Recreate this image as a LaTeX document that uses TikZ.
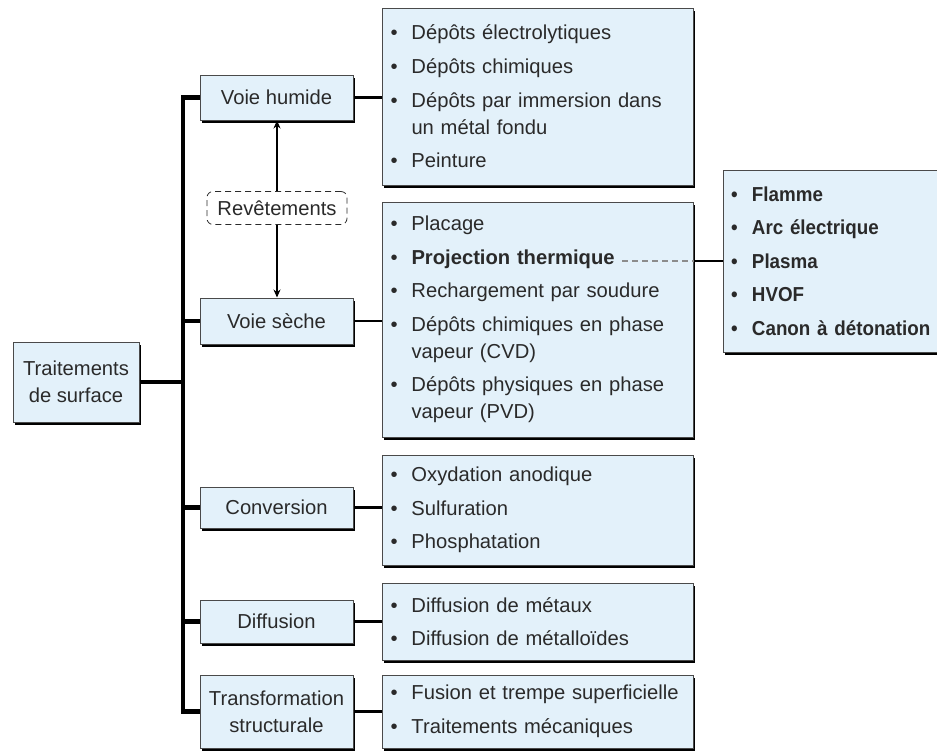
\documentclass[tikz,border=0pt]{standalone}
\usepackage{fontspec}
\setmainfont{Liberation Sans}
\newfontfamily\grasfont[FakeStretch=0.93]{Liberation Sans}
\usetikzlibrary{arrows.meta, shadows}
\definecolor{tsfill}{HTML}{E3F1FA}
\definecolor{tsedge}{HTML}{4A4A4A}
\definecolor{tsdash}{HTML}{8C8C8C}
\definecolor{tstext}{HTML}{2A2A2A}
\newcommand{\itm}{\makebox[10.5pt][l]{\textbullet}}
\newcommand{\itmc}{\hspace*{10.5pt}}
\newcommand{\isep}{3.3pt}
\tikzset{
  famille/.style={rectangle, draw=tsedge, line width=0.5pt, fill=tsfill, text=tstext,
    font=\fontsize{10.1}{13.5}\selectfont, align=center, inner sep=2pt,
    drop shadow={shadow xshift=0.9pt, shadow yshift=-1.4pt, fill=black, opacity=1}},
  liste/.style={famille, align=left, inner xsep=4pt, text width=147pt, minimum width=155.5pt},
  revet/.style={rectangle, rounded corners=3pt, draw=tstext, densely dashed, line width=0.4pt,
    font=\fontsize{10.1}{13.5}\selectfont, text=tstext, minimum width=70pt, minimum height=16.5pt},
  tronc/.style={line width=2.2pt, black},
  lien/.style={line width=1.2pt, black},
  renvoi/.style={-{Stealth[length=4pt, width=3.5pt]}, line width=0.8pt},
  pointille/.style={densely dashed, line width=0.7pt, tsdash},
}
\begin{document}
\begin{tikzpicture}[x=0.5pt, y=-0.5pt]
        \clip (0,0) rectangle (937,751);
        \node[famille, minimum width=63pt, minimum height=40pt] (traitements) at (76,382) {Traitements\\de surface};
        \node[famille, minimum width=76.5pt, minimum height=22.5pt] (humide) at (276.5,97.5) {Voie humide};
        \node[famille, minimum width=76.5pt, minimum height=23pt] (seche) at (276.5,321) {Voie sèche};
        \node[famille, minimum width=76.5pt, minimum height=20.5pt] (conv) at (276.5,507.5) {Conversion};
        \node[famille, minimum width=76.5pt, minimum height=21.5pt] (diff) at (276.5,621.5) {Diffusion};
        \node[famille, minimum width=76.5pt, minimum height=36.5pt] (transfo) at (276.5,711.5) {Transformation\\structurale};
        \node[revet] (rev) at (277,208) {Revêtements};

        \node[liste, minimum height=88.5pt] (humitems) at (537.5,96.5) {\itm Dépôts électrolytiques\\[\isep]
          \itm Dépôts chimiques\\[\isep] \itm Dépôts par immersion dans\\ \itmc un métal fondu\\[\isep] \itm Peinture};
        \node[liste, minimum height=117.5pt] (secheitems) at (537.5,319.5) {\itm Placage\\[\isep]
          \itm\textbf{Projection thermique}\\[\isep] \itm Rechargement par soudure\\[\isep]
          \itm Dépôts chimiques en phase\\ \itmc vapeur (CVD)\\[\isep] \itm Dépôts physiques en phase\\ \itmc vapeur (PVD)};
        \node[liste, text width=122pt, minimum width=130pt, minimum height=91pt, font=\fontsize{10.1}{13.5}\grasfont\bfseries] (projitems) at (853,261) {\itm Flamme\\[\isep]
          \itm Arc électrique\\[\isep] \itm Plasma\\[\isep] \itm HVOF\\[\isep] \itm Canon à détonation};
        \node[liste, minimum height=55pt] (convitems) at (537.5,510) {\itm Oxydation anodique\\[\isep]
          \itm Sulfuration\\[\isep] \itm Phosphatation};
        \node[liste, minimum height=38.5pt] (diffitems) at (537.5,621.5) {\itm Diffusion de métaux\\[\isep]
          \itm Diffusion de métalloïdes};
        \node[liste, minimum height=36.5pt] (transitems) at (537.5,711.5) {\itm Fusion et trempe superficielle\\[\isep]
          \itm Traitements mécaniques};

        \coordinate (spine) at (183,382);
        \coordinate (projfin) at (622,261);
        \draw[tronc] (humide.west) -| (spine |- transfo.west) -- (transfo.west);
        \draw[tronc] (traitements.east) -- (spine);
        \foreach \b in {seche, conv, diff}
          \draw[tronc] (spine |- \b.west) -- (\b.west);
        \foreach \a/\b in {humide/humitems, seche/secheitems, conv/convitems, diff/diffitems, transfo/transitems}
          \draw[lien] (\a.east) -- (\b.west |- \a.east);
        \draw[renvoi] (rev.north) -- (rev.north |- humide.south);
        \draw[renvoi] (rev.south) -- (rev.south |- seche.north);
        \draw[pointille] (projfin) -- (secheitems.east |- projfin);
        \draw[lien] (secheitems.east |- projitems.west) -- (projitems.west);
      \end{tikzpicture}
\end{document}
